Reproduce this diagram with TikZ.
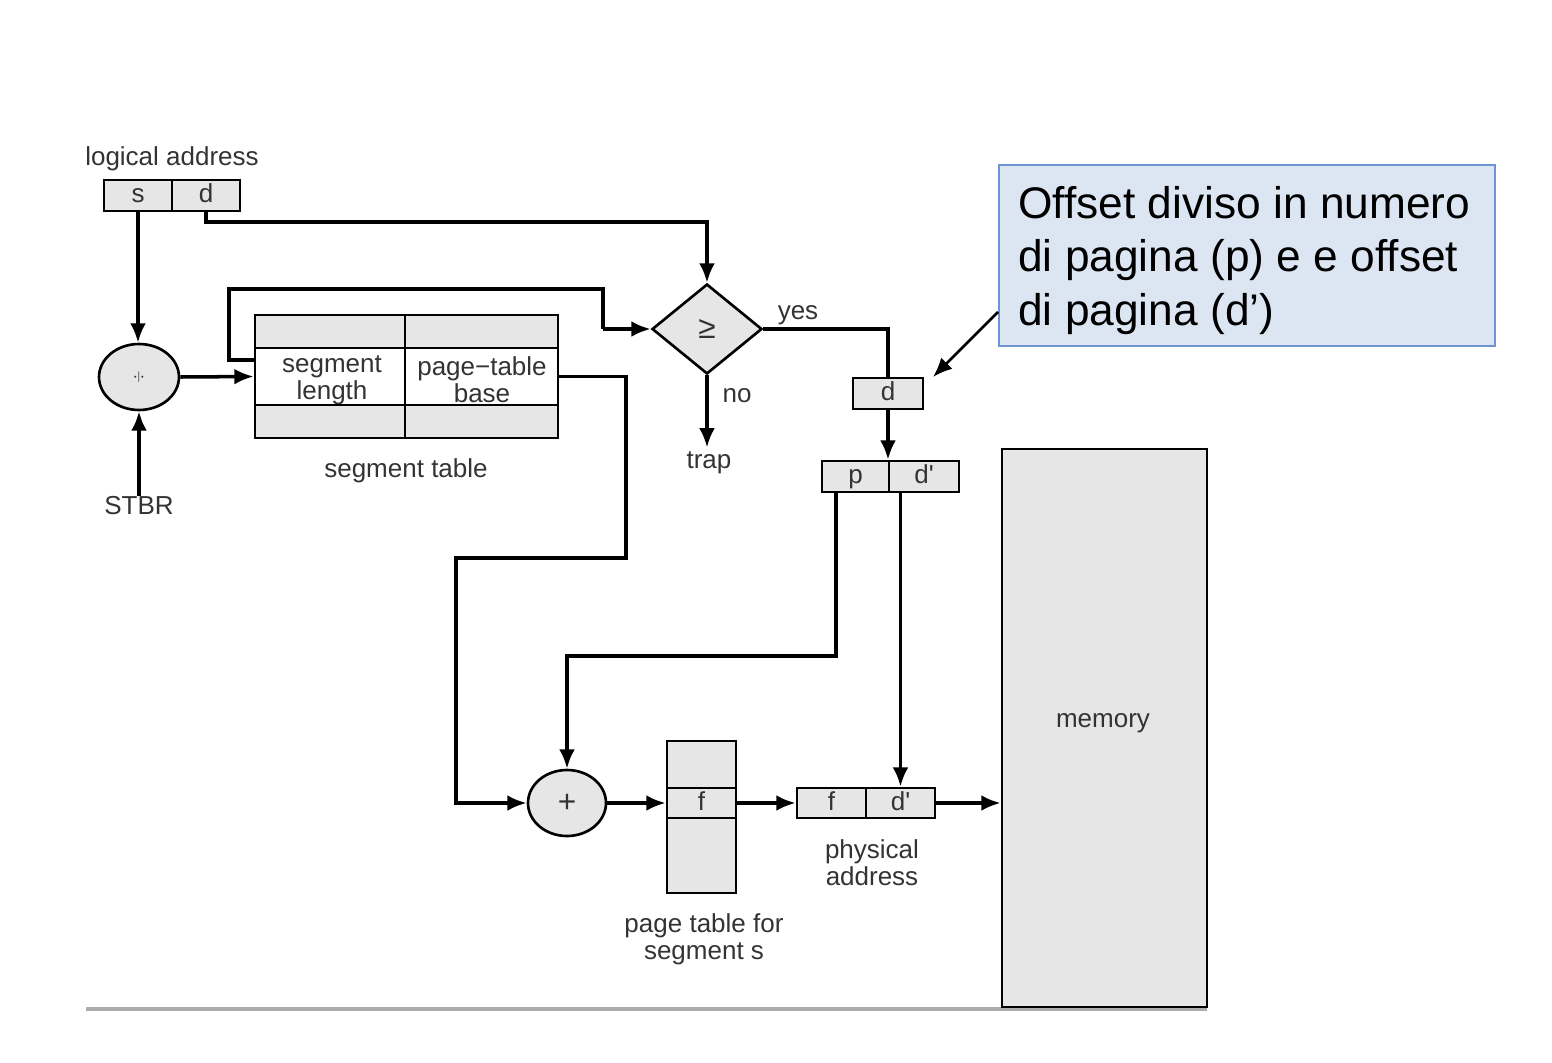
\documentclass[tikz,border=0pt]{standalone}
\usepackage{fontspec}
\usetikzlibrary{arrows.meta,shapes.geometric,calc}
\newfontfamily\labfont{Liberation Sans}
\def\pu{0.02cm}
\definecolor{cellgray}{HTML}{E6E6E6}
\definecolor{txtgray}{HTML}{333333}
\definecolor{callfill}{HTML}{DCE6F2}
\definecolor{callline}{HTML}{6E94D4}
\begin{document}
\begin{tikzpicture}[x=0.02cm,y=-0.02cm,
  lab/.style={font=\fontsize{14.8}{15.5}\selectfont\labfont, text=txtgray, align=center, inner sep=0pt},
  cellbase/.style={draw, fill=cellgray, line width=1.5pt, inner sep=0pt, minimum height=31*\pu, font=\fontsize{14.8}{15.5}\selectfont\labfont, text=txtgray},
  cell/.style={cellbase, text height=10pt, text depth=2pt},
  wcell/.style={cellbase, fill=white},
  conn/.style={line width=2pt},
  arr/.style={conn, -{Latex[length=11pt,width=9pt]}},
  oval/.style={ellipse, draw, fill=cellgray, line width=1.5pt, inner sep=0pt}
]
\useasboundingbox (0,0) rectangle (1552,1062);

% bottom rule
\draw[line width=1.8pt, gray!65] (86,1009) -- (1207,1009);

% logical address
\node[lab] (latxt) at (172,159) {logical address};
\node[cell, minimum width=68*\pu] (las) at (138,195.5) {s};
\node[cell, minimum width=68*\pu] (lad) at (206,195.5) {d};

% divide circle and STBR
\node[oval, minimum width=80*\pu, minimum height=66*\pu] (div) at (139,377) {\rotatebox{90}{\color{txtgray}\small$\div$}};
\node[lab] (stbr) at (139,506) {STBR};

% segment table
\node[cellbase, minimum width=150*\pu, minimum height=33*\pu] (stt1) at (330,331.5) {};
\node[cellbase, minimum width=153*\pu, minimum height=33*\pu] (stt2) at (481.5,331.5) {};
\node[wcell, minimum width=150*\pu, minimum height=57*\pu] (stl) at (330,376.5) {};
\node[wcell, minimum width=153*\pu, minimum height=57*\pu] (stb) at (481.5,376.5) {};
\node[lab] (stltxt) at (332,380) {segment\\length};
\node[lab] (stbtxt) at (482,380) {page{\textminus}table\\base};
\node[cellbase, minimum width=150*\pu, minimum height=33*\pu] (stb1) at (330,421.5) {};
\node[cellbase, minimum width=153*\pu, minimum height=33*\pu] (stb2) at (481.5,421.5) {};
\node[lab] (sttxt) at (406,471) {segment table};

% comparison diamond
\node[diamond, draw, fill=cellgray, line width=1.5pt, inner sep=0pt, minimum width=110*\pu, minimum height=90*\pu, aspect=1.22, font=\fontsize{18}{20}\selectfont\labfont, text=txtgray] (dia) at (707,329) {≥};
\node[lab] (yes) at (798,315) {yes};
\node[lab] (no) at (737,396) {no};
\node[lab] (trap) at (709,463) {trap};

% d and p|d'
\node[cell, minimum width=70*\pu] (dbox) at (888,393.5) {d};
\node[cell, minimum width=67*\pu] (pc) at (855.5,476.5) {p};
\node[cell, minimum width=70*\pu] (dpc) at (924,476.5) {d'};

% plus circle
\node[oval, minimum width=78*\pu, minimum height=66*\pu, font=\fontsize{18}{20}\selectfont\labfont, text=txtgray] (plus) at (567,803) {+};

% page table for segment s
\node[cellbase, minimum width=69*\pu, minimum height=47*\pu] (ptt) at (701.5,764.5) {};
\node[cell, minimum width=69*\pu, minimum height=30*\pu] (ptf) at (701.5,803) {f};
\node[cellbase, minimum width=69*\pu, minimum height=75*\pu] (ptb) at (701.5,855.5) {};
\node[lab] (pttxt) at (704,939) {page table for\\segment s};

% physical address
\node[cell, minimum width=69*\pu, minimum height=30*\pu] (physf) at (831.5,803) {f};
\node[cell, minimum width=69*\pu, minimum height=30*\pu] (physd) at (900.5,803) {d'};
\node[lab] (phtxt) at (872,863) {physical\\address};

% memory
\node[cellbase, minimum width=205*\pu, minimum height=558*\pu] (mem) at (1104.5,728) {};
\node[lab] (memtxt) at (1103,723) {memory};

% callout
\node[draw=callline, fill=callfill, line width=1.4pt, minimum width=496*\pu, minimum height=181*\pu, inner sep=0pt] (call) at (1247,255.5) {};
\node[anchor=base west, align=left, inner sep=0pt, font=\fontsize{25.2}{30.3}\selectfont\labfont, text=black] (calltxt) at (1018,325) {Offset diviso in numero\\di pagina (p) e e offset\\di pagina (d’)};

% connectors
\draw[arr] (las.south) -- (las.south |- div.north);
\draw[arr] (stbr.north) -- (stbr.north |- div.south);
\draw[arr] (div.east) -- (stl.west);
\coordinate (loopstart) at (255,360);
\draw[conn] (loopstart) -- (229,360) -- (229,289) -- (603,289) -- (603,329);
\draw[arr] (603,329) -- (dia.west);
\draw[arr] (lad.south) -- (206,222) -| (dia.north);
\draw[conn] (dia.east) -| (dbox.north);
\draw[arr] (dia.south) -- ($(dia.south |- trap.north)+(0,-4)$);
\draw[arr] (dbox.south) -- (dbox.south |- dpc.north);
\draw[arr] (836,492) -- (836,656) -| (plus.north);
\draw[arr] (physd.north |- dpc.south) -- (physd.north);
\draw[arr] (stb.east) -| (626,558) -- (456,558) |- (plus.west);
\draw[arr] (plus.east) -- (ptf.west);
\draw[arr] (ptf.east) -- (physf.west);
\draw[arr] (physd.east) -- (mem.west |- physd.east);
\coordinate (callpt) at (998,312);
\draw[arr, line width=1.5pt] (callpt) -- (933,377);
\end{tikzpicture}
\end{document}
